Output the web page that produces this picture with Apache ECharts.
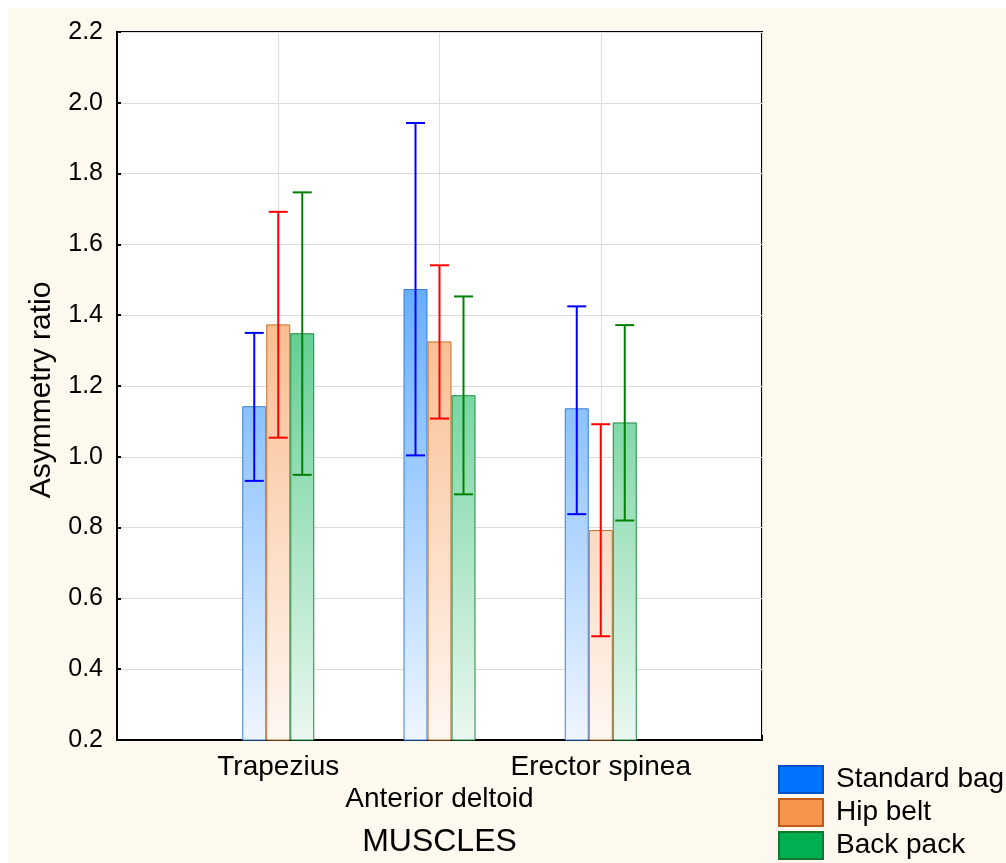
<!DOCTYPE html>
<html>
<head>
<meta charset="utf-8">
<script src="https://cdn.jsdelivr.net/npm/echarts@6/dist/echarts.min.js"></script>
<style>
  html, body { margin: 0; padding: 0; background: #fff; }
  #chart { width: 1006px; height: 863px; }
</style>
</head>
<body>
<div id="chart"></div>
<script>
// categories (padded with empty slots so the groups sit at 1..3 of 0..4)
const muscles = ['', 'Trapezius', 'Anterior deltoid', 'Erector spinea', '']
const groups = ['Standard bag', 'Hip belt', 'Back pack']

// means
const standardBag = ['-', 1.143, 1.474, 1.137, '-']
const hipBelt = ['-', 1.374, 1.326, 0.793, '-']
const backPack = ['-', 1.349, 1.174, 1.097, '-']

// error bar ranges [low, high]
const standardBagErr = [[0.932, 1.350], [1.004, 1.943], [0.838, 1.425]]
const hipBeltErr = [[1.054, 1.692], [1.108, 1.541], [0.493, 1.092]]
const backPackErr = [[0.949, 1.747], [0.894, 1.453], [0.820, 1.372]]

const yTicks = [0.2, 2.2, 0.2]  // min, max, interval

const font = 'Liberation Sans'

// vertical gradient across the plotting area
const grad = (top, bottom) =>
  new echarts.graphic.LinearGradient(0, 32, 0, 740, [
    { offset: 0, color: top },
    { offset: 1, color: bottom }
  ], true)

const errData = arr => arr.map((d, i) => [i + 1, d[0], d[1]])

// 误差线
const errRender = (offset, color) => (params, api) => {
  const x = api.coord([api.value(0), 0])[0] + offset
  const yLo = api.coord([api.value(0), api.value(1)])[1]
  const yHi = api.coord([api.value(0), api.value(2)])[1]
  const hw = 9.5
  const style = { stroke: color, lineWidth: 2 }
  return {
    type: 'group',
    children: [
      { type: 'line', shape: { x1: x, y1: yLo, x2: x, y2: yHi }, style },
      { type: 'line', shape: { x1: x - hw, y1: yHi, x2: x + hw, y2: yHi }, style },
      { type: 'line', shape: { x1: x - hw, y1: yLo, x2: x + hw, y2: yLo }, style }
    ]
  }
}

const chart = echarts.init(document.getElementById('chart'))

const barSeries = (name, data, top, bottom, border) => ({
  name,
  type: 'bar',
  data,
  barWidth: 24,
  barGap: '0%',
  itemStyle: { color: grad(top, bottom), borderColor: border, borderWidth: 1 },
  emphasis: { disabled: true },
  z: 2
})

const errSeries = (name, data, offset, color) => ({
  name: name + ' err',
  type: 'custom',
  data: errData(data),
  renderItem: errRender(offset, color),
  encode: { x: 0, y: [1, 2] },
  silent: true,
  z: 5
})

chart.setOption({
  backgroundColor: '#ffffff',
  animation: false,
  textStyle: { fontFamily: font },
  graphic: [{
    type: 'rect',
    left: 8, top: 8,
    shape: { width: 1000, height: 857 },
    style: { fill: '#fef9ee' },
    z: -10,
    silent: true
  }],
  grid: {
    left: 117, top: 32, right: 244, bottom: 123,
    show: true,
    backgroundColor: '#ffffff',
    borderColor: '#000',
    borderWidth: 2
  },
  legend: {
    orient: 'vertical',
    left: 778,
    top: 765,
    height: 100,
    padding: 0,
    itemWidth: 44,
    itemHeight: 27,
    itemGap: 4,
    textStyle: { fontSize: 28, lineHeight: 27, color: '#000', fontFamily: font, padding: [0, 0, 0, 8] },
    data: [
      { name: groups[0], icon: 'rect', itemStyle: { color: '#0073ff', borderColor: '#0050c8', borderWidth: 2 } },
      { name: groups[1], icon: 'rect', itemStyle: { color: '#f7964a', borderColor: '#c0591a', borderWidth: 2 } },
      { name: groups[2], icon: 'rect', itemStyle: { color: '#00b050', borderColor: '#117a2e', borderWidth: 2 } }
    ]
  },
  xAxis: {
    type: 'category',
    data: muscles,
    boundaryGap: false,
    name: 'MUSCLES',
    nameLocation: 'middle',
    nameGap: 86,
    nameTextStyle: { fontSize: 32, color: '#000', fontFamily: font },
    axisLine: { lineStyle: { color: '#000', width: 2 } },
    axisTick: { inside: true, length: 5, lineStyle: { color: '#000', width: 2 } },
    axisLabel: {
      fontSize: 28,
      color: '#000',
      margin: 11,
      lineHeight: 32,
      interval: 0,
      formatter: (v, i) => (i === 2 ? '\n' + v : v)
    },
    splitLine: { show: true, lineStyle: { color: '#dcdcdc', width: 1 } }
  },
  yAxis: {
    type: 'value',
    min: yTicks[0],
    max: yTicks[1],
    interval: yTicks[2],
    name: 'Asymmetry ratio',
    nameLocation: 'middle',
    nameGap: 60,
    nameTextStyle: { fontSize: 30, color: '#000', fontFamily: font, padding: [0, 8, 0, 0] },
    axisLine: { show: true, lineStyle: { color: '#000', width: 2 } },
    axisTick: { show: true, inside: true, length: 4, lineStyle: { color: '#000', width: 2 } },
    axisLabel: { fontSize: 25, color: '#000', margin: 14, formatter: v => v.toFixed(1) },
    splitLine: { show: true, lineStyle: { color: '#dcdcdc', width: 1 } }
  },
  series: [
    barSeries(groups[0], standardBag, '#1a85ff', '#eef6ff', '#3a7fd9'),
    barSeries(groups[1], hipBelt, '#f5954a', '#fff7f2', '#c8702a'),
    barSeries(groups[2], backPack, '#00b050', '#eaf8f0', '#1e8a3c'),
    errSeries(groups[0], standardBagErr, -24, '#0000ff'),
    errSeries(groups[1], hipBeltErr, 0, '#ff0000'),
    errSeries(groups[2], backPackErr, 24, '#008000')
  ]
})
</script>
</body>
</html>
